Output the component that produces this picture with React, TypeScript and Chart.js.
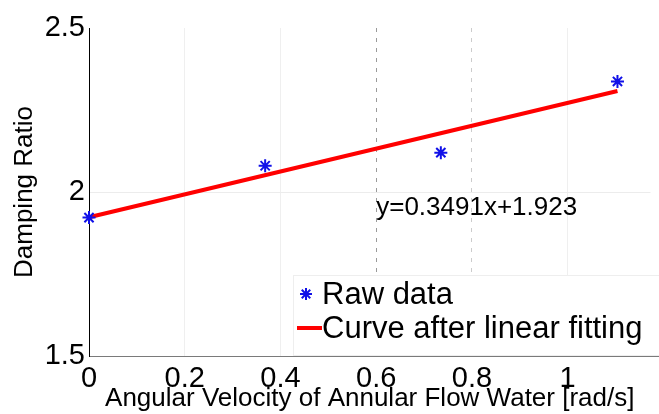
import React, { useEffect, useRef } from "react";
import { Chart, registerables } from "chart.js";

Chart.register(...registerables);

const RAW_X = [0, 0.368, 0.735, 1.104];
const RAW_Y = [1.922, 2.08, 2.12, 2.337];
const FIT_X = [0, 1.104];
const FIT_Y = [1.923, 2.308];
const X_TICKS = [0, 0.2, 0.4, 0.6, 0.8, 1];
const Y_TICKS = [1.5, 2, 2.5];
const EQUATION = "y=0.3491x+1.923";
const RAW_LABEL = "Raw data";
const FIT_LABEL = "Curve after linear fitting";
const X_TITLE = "Angular Velocity of Annular Flow Water [rad/s]";
const Y_TITLE = "Damping Ratio";

const FONT = "'Liberation Sans', Arial, Helvetica, sans-serif";
const BLUE = "#1010e8";
const RED = "#ff0000";

function drawAsterisk(ctx: CanvasRenderingContext2D, x: number, y: number, r: number) {
  ctx.save();
  ctx.strokeStyle = BLUE;
  ctx.lineWidth = 2;
  ctx.beginPath();
  for (let i = 0; i < 4; i++) {
    const a = (i * Math.PI) / 4;
    ctx.moveTo(x - r * Math.cos(a), y - r * Math.sin(a));
    ctx.lineTo(x + r * Math.cos(a), y + r * Math.sin(a));
  }
  ctx.stroke();
  ctx.restore();
}

const overlayPlugin = {
  id: "overlay",
  afterDatasetsDraw(chart: any) {
    const { ctx, chartArea, scales, width } = chart;
    // equation annotation
    ctx.save();
    ctx.fillStyle = "#000";
    ctx.font = `26px ${FONT}`;
    ctx.textAlign = "left";
    ctx.textBaseline = "middle";
    ctx.fillText(EQUATION, scales.x.getPixelForValue(0.6), scales.y.getPixelForValue(1.951));
    ctx.restore();

    // extend bottom axis line to the canvas edge (original figure is cropped on the right)
    ctx.save();
    ctx.strokeStyle = "#7a7a7a";
    ctx.lineWidth = 1;
    ctx.beginPath();
    ctx.moveTo(chartArea.right, Math.round(chartArea.bottom) + 0.5);
    ctx.lineTo(width, Math.round(chartArea.bottom) + 0.5);
    ctx.stroke();
    ctx.restore();

    // legend box
    const left = chartArea.left + 204;
    const top = chartArea.bottom - 81;
    ctx.save();
    ctx.fillStyle = "#ffffff";
    ctx.fillRect(left, top, width - left, chartArea.bottom - top - 1);
    ctx.strokeStyle = "#eeeeee";
    ctx.lineWidth = 1;
    ctx.strokeRect(left + 0.5, top + 0.5, width - left + 2, chartArea.bottom - top - 1);
    drawAsterisk(ctx, left + 13, top + 19, 6);
    ctx.strokeStyle = RED;
    ctx.lineWidth = 4;
    ctx.beginPath();
    ctx.moveTo(left + 4, top + 53);
    ctx.lineTo(left + 29, top + 53);
    ctx.stroke();
    ctx.fillStyle = "#000";
    ctx.font = `31px ${FONT}`;
    ctx.textAlign = "left";
    ctx.textBaseline = "middle";
    ctx.fillText(RAW_LABEL, left + 29, top + 20);
    ctx.fillText(FIT_LABEL, left + 29, top + 54);
    ctx.restore();
  },
};

export default function App() {
  const ref = useRef<HTMLCanvasElement | null>(null);
  useEffect(() => {
    if (!ref.current) return;
    const chart = new Chart(ref.current, {
      type: "scatter",
      data: {
        datasets: [
          {
            type: "line",
            label: FIT_LABEL,
            data: FIT_X.map((x, i) => ({ x, y: FIT_Y[i] })),
            borderColor: RED,
            backgroundColor: RED,
            borderWidth: 4,
            pointRadius: 0,
            fill: false,
            clip: false,
            order: 2,
          } as any,
          {
            label: RAW_LABEL,
            data: RAW_X.map((x, i) => ({ x, y: RAW_Y[i] })),
            pointStyle: "star",
            pointRadius: 6.5,
            borderWidth: 2,
            borderColor: BLUE,
            backgroundColor: BLUE,
            showLine: false,
            clip: false,
            order: 1,
          } as any,
        ],
      },
      options: {
        responsive: false,
        animation: false,
        layout: { padding: { top: 28, left: 0, right: 0, bottom: 0 } },
        plugins: { legend: { display: false }, tooltip: { enabled: false } },
        scales: {
          x: {
            type: "linear",
            min: 0,
            max: 1.173,
            afterBuildTicks: (s: any) => {
              s.ticks = X_TICKS.map((v) => ({ value: v }));
            },
            afterFit: (s: any) => {
              s.height = 58;
            },
            ticks: {
              color: "#000",
              font: { family: FONT, size: 29 },
              padding: 6,
              maxRotation: 0,
              autoSkip: false,
              callback: (v: any) => String(Math.round(Number(v) * 10) / 10),
            },
            grid: {
              drawTicks: false,
              lineWidth: 1,
              color: (c: any) => {
                const v = c.tick ? c.tick.value : -1;
                if (v === 0) return "rgba(0,0,0,0)";
                if (Math.abs(v - 0.6) < 1e-6) return "#9a9a9a";
                if (Math.abs(v - 0.8) < 1e-6) return "#cccccc";
                return "#efefef";
              },
            },
            border: {
              display: true,
              color: "#7a7a7a",
              width: 1,
              dash: (c: any) => {
                const v = c.tick ? c.tick.value : -1;
                if (Math.abs(v - 0.6) < 1e-6 || Math.abs(v - 0.8) < 1e-6) return [4, 6];
                return [];
              },
            },
            title: {
              display: true,
              text: X_TITLE,
              color: "#000",
              font: { family: FONT, size: 26 },
              padding: { top: 0, bottom: 0 },
            },
          },
          y: {
            type: "linear",
            min: 1.5,
            max: 2.5,
            afterBuildTicks: (s: any) => {
              s.ticks = Y_TICKS.map((v) => ({ value: v }));
            },
            afterFit: (s: any) => {
              s.width = 89;
            },
            ticks: {
              color: "#000",
              font: { family: FONT, size: 29 },
              padding: 4,
              callback: (v: any) => String(Math.round(Number(v) * 10) / 10),
            },
            grid: {
              drawTicks: false,
              color: (c: any) => {
                const v = c.tick ? c.tick.value : -1;
                if (Math.abs(v - 2) < 1e-6) return "#ececec";
                return "rgba(0,0,0,0)";
              },
            },
            border: { display: true, color: "#000", width: 1 },
            title: {
              display: true,
              text: Y_TITLE,
              color: "#000",
              font: { family: FONT, size: 26 },
              padding: { top: 9, bottom: 0 },
            },
          },
        },
      },
      plugins: [overlayPlugin],
    });
    return () => chart.destroy();
  }, []);
  return (
    <div style={{ position: "fixed", left: 0, top: 0, width: 659, height: 414, background: "#fff" }}>
      <canvas ref={ref} width={659} height={414} style={{ display: "block" }} />
    </div>
  );
}
